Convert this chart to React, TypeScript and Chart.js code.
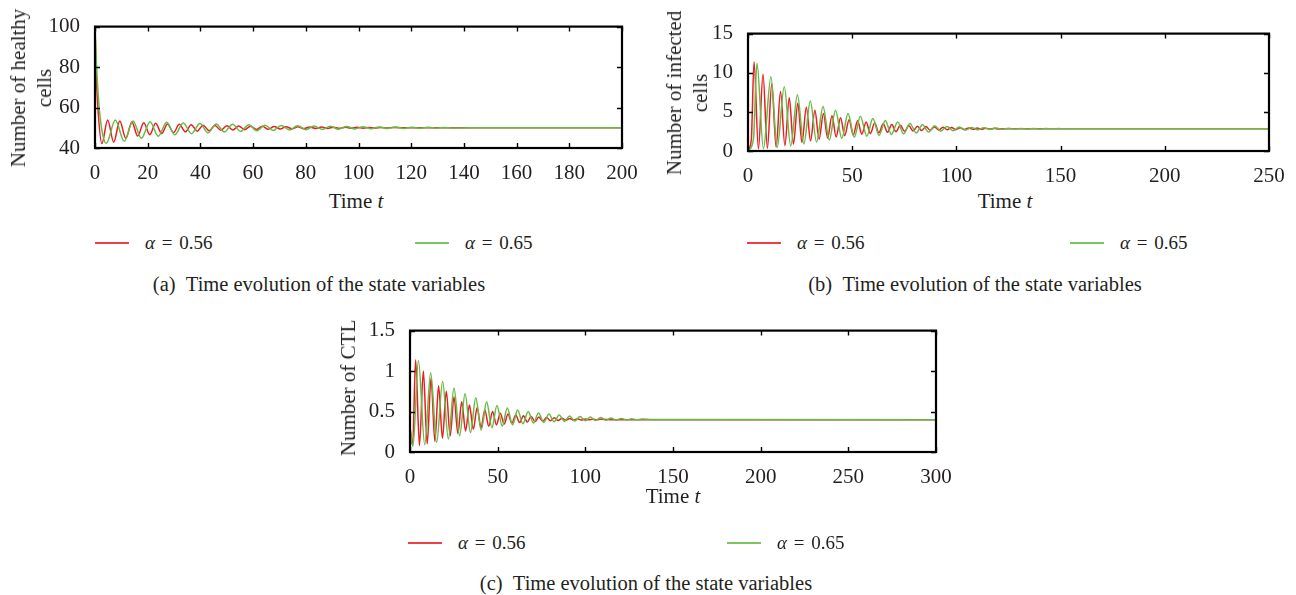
import React, { useEffect, useRef } from "react";
import { Chart, registerables } from "chart.js";
Chart.register(...registerables);

type Pt = [number, number];

// ---------- data (t, value) ----------
const healthyRed: Pt[] = [[0,100],[0.4,79],[1.2,58],[2.6,42.2],[4.8,53.8],[7.1,42.9],[9.4,53.4],[11.7,44.8],[14.0,52.9],[16.2,45.9],[18.5,52.5],[20.8,46.6],[23.0,52.2],[25.3,47.2],[27.5,51.9],[29.8,47.6],[32.0,51.7],[34.3,48.0],[36.5,51.5],[38.8,48.3],[41.0,51.3],[43.3,48.55],[45.5,51.15],[47.8,48.75],[50.0,51.0],[52.3,48.92],[54.5,50.9],[56.8,49.07],[59.0,50.8],[61.3,49.2],[63.5,50.7],[65.8,49.3],[68.0,50.62],[70.3,49.4],[72.5,50.54],[74.8,49.48],[77.0,50.47],[79.3,49.55],[81.5,50.41],[83.8,49.61],[86.0,50.35],[88.3,49.67],[90.5,50.3],[92.8,49.72],[95.0,50.26],[97.3,49.76],[99.5,50.22],[101.8,49.8],[104.0,50.18],[106.3,49.84],[108.5,50.14],[110.8,49.88],[113.0,50.1],[120,50],[200,50]];
const healthyGreen: Pt[] = [[0,100],[0.5,83],[1.4,63],[2.6,49],[4.3,42.3],[7.7,53.8],[11.1,43.3],[14.4,53.4],[17.6,44.8],[20.9,53.0],[24.0,45.8],[27.2,52.7],[30.3,46.5],[33.5,52.4],[36.6,47.1],[39.8,52.1],[42.9,47.5],[46.0,51.9],[49.1,47.9],[52.2,51.7],[55.3,48.2],[58.3,51.5],[61.4,48.5],[64.5,51.3],[67.6,48.7],[70.7,51.15],[73.8,48.9],[76.9,51.0],[80.0,49.05],[83.1,50.85],[86.2,49.2],[89.3,50.72],[92.4,49.32],[95.5,50.6],[98.6,49.43],[101.7,50.5],[104.8,49.53],[107.9,50.42],[111.0,49.61],[114.1,50.35],[117.2,49.68],[120.3,50.28],[123.4,49.75],[126.5,50.22],[129.6,49.8],[132.7,50.17],[135.8,49.85],[142,50],[200,50]];

const infectedRed: Pt[] = [[0,0.05],[1.6,1.5],[2.9,11.4],[5.0,0.25],[7.2,9.8],[9.3,0.35],[11.4,8.6],[13.5,0.5],[15.6,7.6],[17.7,0.7],[19.8,6.8],[21.8,0.9],[23.9,6.1],[25.9,1.1],[28.0,5.6],[30.0,1.3],[32.1,5.2],[34.1,1.5],[36.2,4.8],[38.2,1.65],[40.3,4.5],[42.3,1.8],[44.4,4.25],[46.4,1.95],[48.5,4.0],[50.5,2.05],[52.6,3.85],[54.6,2.15],[56.7,3.7],[58.7,2.25],[60.8,3.58],[62.8,2.33],[64.9,3.47],[66.9,2.4],[69.0,3.38],[71.0,2.46],[73.1,3.3],[75.1,2.52],[77.2,3.23],[79.2,2.57],[81.3,3.17],[83.3,2.61],[85.4,3.12],[87.4,2.65],[89.5,3.07],[91.5,2.68],[93.6,3.03],[95.6,2.71],[97.7,3.0],[99.7,2.73],[101.8,2.97],[103.8,2.75],[105.9,2.95],[107.9,2.77],[110.0,2.93],[112.0,2.79],[114.1,2.91],[116.1,2.8],[118.2,2.9],[120.2,2.81],[125,2.85],[250,2.85]];
const infectedGreen: Pt[] = [[0,0.05],[2.6,1.5],[4.3,11.2],[7.4,0.3],[11.0,9.5],[14.0,0.45],[17.4,8.2],[20.5,0.65],[23.7,7.2],[26.8,0.9],[29.9,6.4],[32.9,1.15],[36.0,5.7],[39.0,1.4],[42.0,5.2],[45.0,1.6],[48.0,4.8],[51.0,1.75],[53.9,4.45],[57.0,1.9],[59.9,4.15],[62.9,2.0],[65.9,3.9],[68.8,2.1],[71.8,3.7],[74.7,2.2],[77.7,3.5],[80.7,2.3],[83.7,3.35],[86.6,2.42],[89.6,3.23],[92.5,2.52],[95.5,3.14],[98.4,2.6],[101.4,3.06],[104.3,2.67],[107.3,3.0],[110.2,2.72],[113.2,2.96],[116.1,2.75],[119.1,2.93],[122.0,2.78],[125.0,2.91],[128.0,2.8],[131.0,2.89],[134.0,2.815],[137.0,2.88],[140,2.825],[143,2.87],[146,2.83],[149,2.86],[152,2.84],[158,2.85],[250,2.85]];

const ctlRed: Pt[] = [[0,0.3],[1.5,0.08],[3.2,1.14],[5.4,0.08],[7.6,1.0],[9.8,0.1],[12.0,0.91],[14.2,0.13],[16.3,0.82],[18.5,0.17],[20.7,0.75],[22.9,0.2],[25.1,0.68],[27.3,0.23],[29.5,0.62],[31.7,0.26],[33.9,0.58],[36.1,0.28],[38.3,0.55],[40.5,0.3],[42.7,0.52],[44.9,0.32],[47.1,0.5],[49.3,0.335],[51.5,0.48],[53.7,0.345],[55.9,0.47],[58.1,0.355],[60.3,0.457],[62.5,0.363],[64.7,0.448],[66.9,0.37],[69.1,0.44],[71.3,0.376],[73.5,0.433],[75.7,0.381],[77.9,0.427],[80.1,0.385],[82.3,0.422],[84.5,0.388],[86.7,0.418],[88.9,0.391],[91.1,0.414],[93.3,0.393],[95.5,0.411],[97.7,0.395],[99.9,0.408],[102.1,0.397],[104.3,0.406],[106.5,0.398],[108.7,0.404],[115,0.4],[300,0.4]];
const ctlGreen: Pt[] = [[0,0.3],[1.7,0.07],[4.8,1.13],[8.4,0.09],[11.8,0.98],[15.2,0.12],[18.6,0.87],[21.9,0.16],[25.1,0.79],[28.3,0.2],[31.4,0.72],[34.5,0.24],[37.5,0.67],[40.6,0.27],[43.7,0.62],[46.7,0.3],[49.6,0.575],[52.6,0.32],[55.5,0.545],[58.5,0.335],[61.4,0.52],[64.4,0.348],[67.4,0.5],[70.4,0.358],[73.3,0.482],[76.3,0.366],[79.2,0.468],[82.2,0.373],[85.1,0.456],[88.1,0.378],[91.0,0.446],[94.0,0.383],[96.9,0.438],[99.9,0.387],[102.8,0.431],[105.8,0.39],[108.7,0.425],[111.7,0.392],[114.6,0.42],[117.6,0.394],[120.5,0.415],[123.5,0.396],[126.4,0.411],[129.4,0.397],[132.3,0.408],[138,0.401],[300,0.4]];

const seriesLabels = ["\u03b1 = 0.56", "\u03b1 = 0.65"];

// ---------- style ----------
const RED = "#ec1c24";
const GREEN = "#66bb44";
const FONT = '"Liberation Serif", "DejaVu Serif", serif';
const TEXT = "#231f20";

const PADL = 60;
const PADT = 16;
const PADR = 24;
const PADB = 36;

const frameTicks = {
  id: "frameTicks",
  afterDatasetsDraw(chart: any) {
    const { ctx, chartArea: a, scales } = chart;
    const xs = scales.x;
    const ys = scales.y;
    const len = 5;
    ctx.save();
    ctx.strokeStyle = "#000";
    ctx.lineWidth = 1.4;
    ctx.beginPath();
    xs.ticks.forEach((t: any) => {
      const px = Math.round(xs.getPixelForValue(t.value)) + 0.5;
      ctx.moveTo(px, a.bottom);
      ctx.lineTo(px, a.bottom - len);
      ctx.moveTo(px, a.top);
      ctx.lineTo(px, a.top + len);
    });
    ys.ticks.forEach((t: any) => {
      const py = Math.round(ys.getPixelForValue(t.value)) + 0.5;
      ctx.moveTo(a.left, py);
      ctx.lineTo(a.left + len, py);
      ctx.moveTo(a.right, py);
      ctx.lineTo(a.right - len, py);
    });
    ctx.stroke();
    ctx.lineWidth = 2.2;
    ctx.strokeRect(a.left, a.top, a.right - a.left, a.bottom - a.top);
    ctx.restore();
  },
};

type PanelProps = {
  box: { L: number; T: number; R: number; B: number };
  red: Pt[];
  green: Pt[];
  xMax: number;
  xStep: number;
  yMin: number;
  yMax: number;
  yStep: number;
};

function Panel({ box, red, green, xMax, xStep, yMin, yMax, yStep }: PanelProps) {
  const ref = useRef<HTMLCanvasElement | null>(null);
  const w = box.R - box.L + PADL + PADR;
  const h = box.B - box.T + PADT + PADB;
  useEffect(() => {
    if (!ref.current) return;
    const toXY = (arr: Pt[]) => arr.map(([x, y]) => ({ x, y }));
    const chart = new Chart(ref.current, {
      type: "line",
      data: {
        datasets: [
          { label: seriesLabels[0], data: toXY(red), borderColor: RED, borderWidth: 1.5, pointRadius: 0, cubicInterpolationMode: "monotone", fill: false, order: 2 },
          { label: seriesLabels[1], data: toXY(green), borderColor: GREEN, borderWidth: 1.5, pointRadius: 0, cubicInterpolationMode: "monotone", fill: false, order: 1 },
        ],
      },
      options: {
        responsive: false,
        animation: false,
        devicePixelRatio: 1,
        layout: { padding: { left: 0, top: PADT, right: PADR, bottom: 0 } },
        plugins: { legend: { display: false }, tooltip: { enabled: false }, title: { display: false } },
        scales: {
          x: {
            type: "linear",
            min: 0,
            max: xMax,
            grid: { display: false },
            border: { display: false },
            ticks: { stepSize: xStep, padding: 5, color: TEXT, font: { family: FONT, size: 21 }, maxRotation: 0, callback: (v: any) => String(v) },
            afterFit: (s: any) => { s.height = PADB; },
          },
          y: {
            type: "linear",
            min: yMin,
            max: yMax,
            grid: { display: false },
            border: { display: false },
            ticks: { stepSize: yStep, padding: 7, color: TEXT, font: { family: FONT, size: 21 }, callback: (v: any) => String(v) },
            afterFit: (s: any) => { s.width = PADL; },
          },
        },
      } as any,
      plugins: [frameTicks],
    });
    return () => chart.destroy();
  }, []);
  return (
    <canvas
      ref={ref}
      width={w}
      height={h}
      style={{ position: "absolute", left: box.L - PADL, top: box.T - PADT, width: w, height: h }}
    />
  );
}

const textBase: React.CSSProperties = { position: "absolute", fontFamily: FONT, color: TEXT, whiteSpace: "nowrap" };

function YTitle({ cx, cy, lines }: { cx: number; cy: number; lines: string[] }) {
  return (
    <div style={{ ...textBase, left: cx, top: cy, fontSize: 21, lineHeight: "26px", textAlign: "center", transform: "translate(-50%,-50%) rotate(-90deg)" }}>
      {lines.map((l, i) => (<div key={i}>{l}</div>))}
    </div>
  );
}

function XTitle({ cx, cy }: { cx: number; cy: number }) {
  return (
    <div style={{ ...textBase, left: cx, top: cy, fontSize: 21, lineHeight: "24px", transform: "translate(-50%,-50%)" }}>
      Time <i>t</i>
    </div>
  );
}

function LegendItem({ x, y, color, label }: { x: number; y: number; color: string; label: string }) {
  return (
    <div style={{ ...textBase, left: x, top: y - 12, height: 24, display: "flex", alignItems: "center", fontSize: 19 }}>
      <span style={{ display: "inline-block", width: 34, height: 2, background: color, marginRight: 16, opacity: 0.85 }} />
      <span style={{ wordSpacing: 2 }}><i>{label.slice(0, 1)}</i>{label.slice(1)}</span>
    </div>
  );
}

function Caption({ cx, cy, tag }: { cx: number; cy: number; tag: string }) {
  return (
    <div style={{ ...textBase, left: cx, top: cy, fontSize: 20.5, lineHeight: "24px", transform: "translate(-50%,-50%)" }}>
      {tag}{"\u2002"}Time evolution of the state variables
    </div>
  );
}

export default function App() {
  return (
    <div style={{ position: "absolute", left: 0, top: 0, width: 1296, height: 595, background: "#fff", overflow: "hidden" }}>
      {/* (a) */}
      <Panel box={{ L: 95, T: 23, R: 622, B: 148 }} red={healthyRed} green={healthyGreen} xMax={200} xStep={20} yMin={40} yMax={100} yStep={20} />
      <YTitle cx={31} cy={88} lines={["Number of healthy", "cells"]} />
      <XTitle cx={356} cy={201} />
      <LegendItem x={95} y={243} color={RED} label={seriesLabels[0]} />
      <LegendItem x={415} y={243} color={GREEN} label={seriesLabels[1]} />
      <Caption cx={319} cy={284} tag="(a)" />

      {/* (b) */}
      <Panel box={{ L: 748, T: 30, R: 1269, B: 151 }} red={infectedRed} green={infectedGreen} xMax={250} xStep={50} yMin={0} yMax={15} yStep={5} />
      <YTitle cx={687} cy={93} lines={["Number of infected", "cells"]} />
      <XTitle cx={1005} cy={201} />
      <LegendItem x={747} y={243} color={RED} label={seriesLabels[0]} />
      <LegendItem x={1070} y={243} color={GREEN} label={seriesLabels[1]} />
      <Caption cx={975} cy={284} tag="(b)" />

      {/* (c) */}
      <Panel box={{ L: 410, T: 327, R: 936, B: 452 }} red={ctlRed} green={ctlGreen} xMax={300} xStep={50} yMin={0} yMax={1.5} yStep={0.5} />
      <YTitle cx={348} cy={388} lines={["Number of CTL"]} />
      <XTitle cx={673} cy={496} />
      <LegendItem x={408} y={543} color={RED} label={seriesLabels[0]} />
      <LegendItem x={727} y={543} color={GREEN} label={seriesLabels[1]} />
      <Caption cx={646} cy={583} tag="(c)" />
    </div>
  );
}
